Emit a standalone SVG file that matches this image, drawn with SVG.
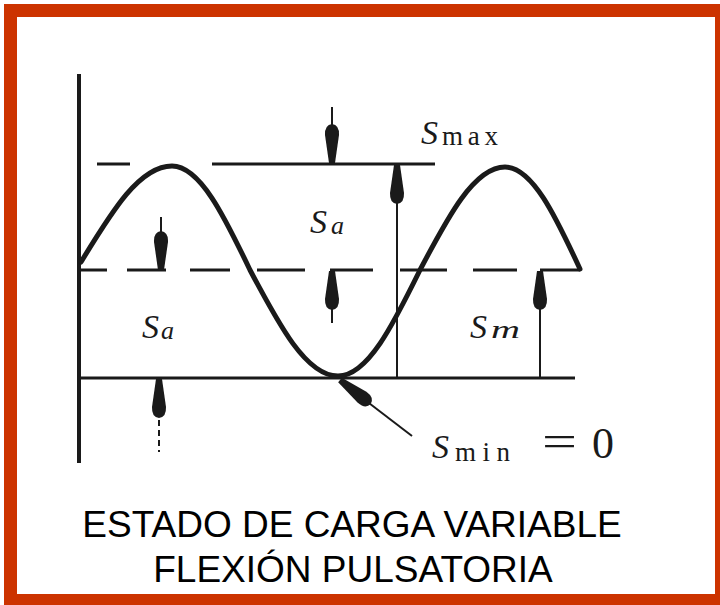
<svg xmlns="http://www.w3.org/2000/svg" xmlns:xlink="http://www.w3.org/1999/xlink" width="720" height="605" viewBox="0 0 720 605">
<style>
.ln{stroke:#1a1a1a;stroke-width:3;fill:none}
.thin{stroke:#1a1a1a;stroke-width:2;fill:none}
.crv{stroke:#1a1a1a;stroke-width:5;fill:none;stroke-linejoin:round;stroke-linecap:round}
.S{font-family:"Liberation Serif","DejaVu Serif",serif;font-style:italic;font-size:34px;fill:#1a1a1a}
.sub{font-family:"Liberation Serif","DejaVu Serif",serif;font-size:27px;fill:#1a1a1a}
.subi{font-family:"Liberation Serif","DejaVu Serif",serif;font-style:italic;font-size:26px;fill:#1a1a1a}
.big{font-family:"Liberation Serif","DejaVu Serif",serif;font-size:44px;fill:#1a1a1a}
.title{font-family:"Liberation Sans",Arial,sans-serif;font-size:37px;fill:#000;text-anchor:middle}
</style>
<defs>
<path id="ah" d="M-3,0 L3,0 L7,28 Q7.5,38 0,39 Q-7.5,38 -7,28 Z" fill="#1a1a1a"/>
</defs>
<rect x="0" y="0" width="720" height="605" fill="#fff"/>
<path id="border" fill="#cc3300" fill-rule="evenodd" d="M4,4 H720 V605 H4 Z M17,17 V594 H715 V17 Z"/>
<g id="axes">
<line x1="79" y1="74" x2="79" y2="463" stroke="#1a1a1a" stroke-width="4"/>
</g>
<g id="levels">
<path class="ln" d="M97,164 H130 M212,164 H435"/>
<path class="ln" d="M80,270 H107 M127,270 H166 M190,270 H230 M257,270 H305 M330,270 H373 M400,270 H447 M473,270 H517 M540,270 H580"/>
<path class="ln" d="M79,378 H575"/>
</g>
<g id="curve">
<path class="crv" d="M81,262 C111,213 139,166 172,166 C200,166 224.6,216.7 250,270 C278.7,324.3 306.1,376 338,376 C367.7,376 393.3,324.3 420,270 C447.7,217.2 474.2,167 505,167 C532.2,167 555.5,216 580,269"/>
</g>
<g id="connectors">
<line class="thin" x1="332" y1="107" x2="332" y2="128"/>
<use xlink:href="#ah" transform="translate(332,163) rotate(180)"/>
<line class="thin" x1="397" y1="200" x2="397" y2="378"/>
<use xlink:href="#ah" transform="translate(397,165)"/>
<line class="thin" x1="161" y1="217" x2="161" y2="234"/>
<use xlink:href="#ah" transform="translate(161,270) rotate(180)"/>
<line class="thin" x1="332" y1="300" x2="332" y2="323"/>
<use xlink:href="#ah" transform="translate(332,271)"/>
<line class="thin" x1="540" y1="300" x2="540" y2="378"/>
<use xlink:href="#ah" transform="translate(540,271)"/>
<line class="thin" x1="159" y1="410" x2="159" y2="452" stroke-dasharray="6 4"/>
<use xlink:href="#ah" transform="translate(159,379)"/>
<line class="thin" x1="365" y1="400" x2="412" y2="436"/>
<use xlink:href="#ah" transform="translate(340,380) rotate(-52)"/>
</g>
<g id="labels">
<text class="S" x="421" y="144">S</text><text class="sub" x="442" y="145" textLength="56" lengthAdjust="spacing">max</text>
<text class="S" x="310" y="233">S</text><text class="subi" x="331" y="234">a</text>
<text class="S" x="142" y="338">S</text><text class="subi" x="161" y="339">a</text>
<text class="S" x="470" y="338">S</text><text class="subi" x="491" y="338" textLength="29" lengthAdjust="spacingAndGlyphs">m</text>
<text class="S" x="432" y="458">S</text><text class="sub" x="455" y="461" textLength="55" lengthAdjust="spacing">min</text>
<text class="big" x="542" y="456" textLength="35" lengthAdjust="spacingAndGlyphs">=</text>
<text class="big" x="592" y="458">0</text>
</g>
<g id="title">
<text class="title" x="352" y="537">ESTADO DE CARGA VARIABLE</text>
<text class="title" x="353" y="582">FLEXIÓN PULSATORIA</text>
</g>
</svg>
